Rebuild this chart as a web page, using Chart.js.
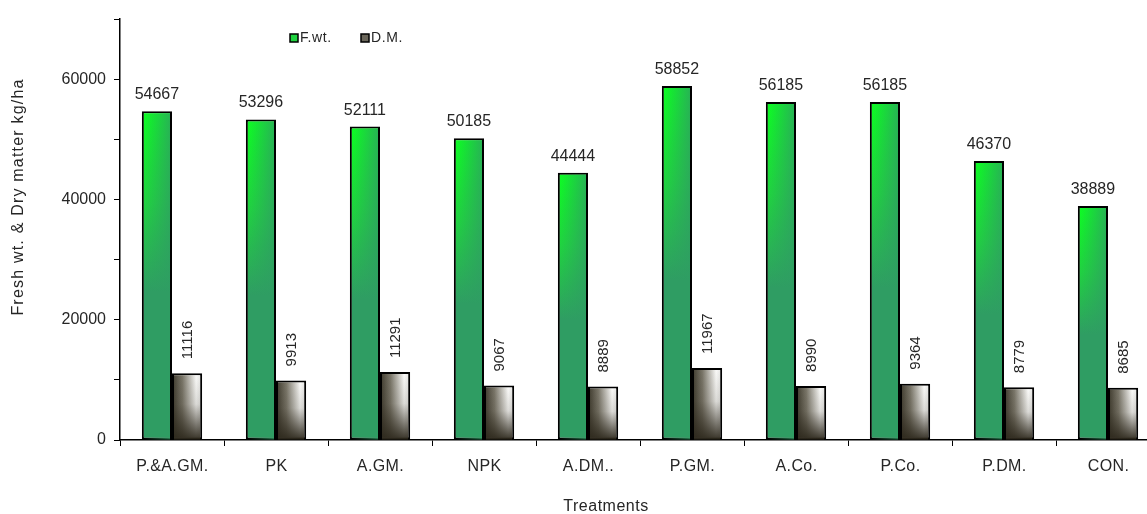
<!DOCTYPE html>
<html>
<head>
<meta charset="utf-8">
<script src="https://cdn.jsdelivr.net/npm/chart.js@4/dist/chart.umd.min.js"></script>
<style>
  html, body { margin: 0; padding: 0; background: #fff; overflow: hidden; }
  #wrap { width: 1147px; height: 514px; overflow: hidden; position: relative; }
  #box { width: 1180px; height: 514px; position: absolute; left: 0; top: 0; }
</style>
</head>
<body>
<div id="wrap"><div id="box"><canvas id="c"></canvas></div></div>
<script>
// Treatments and yields (kg/ha)
const treatments = ['P.&A.GM.', 'PK', 'A.GM.', 'NPK', 'A.DM..', 'P.GM.', 'A.Co.', 'P.Co.', 'P.DM.', 'CON.'];
const freshWeight = [54667, 53296, 52111, 50185, 44444, 58852, 56185, 56185, 46370, 38889];
const dryMatter = [11116, 9913, 11291, 9067, 8889, 11967, 8990, 9364, 8779, 8685];
const seriesNames = ['F.wt.', 'D.M.'];
const yTitle = 'Fresh wt. & Dry matter kg/ha';
const xTitle = 'Treatments';

const FONT = '"Liberation Sans", Arial, sans-serif';
const TEXT = '#262626';
const BW = 2;

function innerRect(el) {
  return {
    l: el.x - el.width / 2 + BW, r: el.x + el.width / 2 - BW,
    t: el.y + BW, b: el.base
  };
}

// Base fills: green bars fade top to bottom, dark bars shade left to right
const barFill = {
  id: 'barFill',
  beforeDatasetsDraw(chart) {
    const ctx = chart.ctx;
    chart.data.datasets.forEach((ds, di) => {
      chart.getDatasetMeta(di).data.forEach(el => {
        const left = el.x - el.width / 2, right = el.x + el.width / 2;
        const top = el.y, bottom = el.base;
        let g;
        if (di === 0) {
          g = ctx.createLinearGradient(0, top, 0, top + (bottom - top) * 0.55);
          g.addColorStop(0, '#0cff22');
          g.addColorStop(0.5, '#1fd43f');
          g.addColorStop(1, '#2f9d63');
        } else {
          g = ctx.createLinearGradient(left, 0, right, 0);
          g.addColorStop(0, '#3b372a');
          g.addColorStop(0.35, '#7b776a');
          g.addColorStop(0.8, '#fafaf8');
          g.addColorStop(1, '#e2e2e0');
        }
        el.options.backgroundColor = g;
      });
    });
  }
};

function spacedText(ctx, text, x, y, spacing) {
  ctx.letterSpacing = spacing + 'px';
  ctx.fillText(text, x, y);
  ctx.letterSpacing = '0px';
}

// Shading overlays, value labels, category labels, axis titles and legend
const annotations = {
  id: 'annotations',
  afterDatasetsDraw(chart) {
    const ctx = chart.ctx;
    ctx.save();

    // horizontal darkening on green bars
    chart.getDatasetMeta(0).data.forEach(el => {
      const r = innerRect(el);
      const g = ctx.createLinearGradient(r.l, 0, r.r, 0);
      g.addColorStop(0, 'rgba(47,157,99,0)');
      g.addColorStop(1, 'rgba(47,157,99,0.75)');
      ctx.fillStyle = g;
      ctx.fillRect(r.l, r.t, r.r - r.l, r.b - r.t);
    });
    // bottom darkening on dry-matter bars
    chart.getDatasetMeta(1).data.forEach(el => {
      const r = innerRect(el);
      const g = ctx.createLinearGradient(0, r.t, 0, r.b);
      g.addColorStop(0, 'rgba(45,40,28,0)');
      g.addColorStop(0.45, 'rgba(45,40,28,0.15)');
      g.addColorStop(1, 'rgba(45,40,28,0.95)');
      ctx.fillStyle = g;
      ctx.fillRect(r.l, r.t, r.r - r.l, r.b - r.t);
    });

    ctx.fillStyle = TEXT;
    ctx.font = '16px ' + FONT;
    chart.getDatasetMeta(0).data.forEach((el, i) => {
      ctx.textAlign = 'center';
      ctx.textBaseline = 'alphabetic';
      ctx.fillText(String(freshWeight[i]), el.x, el.y - 12);
    });
    ctx.font = '15px ' + FONT;
    chart.getDatasetMeta(1).data.forEach((el, i) => {
      ctx.save();
      ctx.translate(el.x + 1, el.y - 14);
      ctx.rotate(-Math.PI / 2);
      ctx.textAlign = 'left';
      ctx.textBaseline = 'middle';
      ctx.fillText(String(dryMatter[i]), 0, 0);
      ctx.restore();
    });

    // category labels
    const xs = chart.scales.x;
    ctx.font = '16px ' + FONT;
    ctx.textAlign = 'center';
    ctx.textBaseline = 'middle';
    treatments.forEach((t, i) => {
      spacedText(ctx, t, xs.getPixelForTick(i) + 0.5, 467, 0.4);
    });

    // axis titles
    ctx.font = '16px ' + FONT;
    ctx.save();
    ctx.translate(19, 197);
    ctx.rotate(-Math.PI / 2);
    ctx.textAlign = 'center';
    ctx.textBaseline = 'middle';
    spacedText(ctx, yTitle, 0, 0, 1.2);
    ctx.restore();
    ctx.font = '16px ' + FONT;
    ctx.textAlign = 'center';
    ctx.textBaseline = 'middle';
    spacedText(ctx, xTitle, 606, 507, 0.5);

    // legend
    const items = [
      { x: 290, fill: '#1fd23f', label: seriesNames[0] },
      { x: 361, fill: '#6a665a', label: seriesNames[1] }
    ];
    ctx.font = '14px ' + FONT;
    items.forEach(it => {
      ctx.fillStyle = it.fill;
      ctx.fillRect(it.x, 34, 8, 8);
      ctx.strokeStyle = '#000';
      ctx.lineWidth = 1.5;
      ctx.strokeRect(it.x, 34, 8, 8);
      ctx.fillStyle = TEXT;
      ctx.textAlign = 'left';
      ctx.textBaseline = 'middle';
      spacedText(ctx, it.label, it.x + 10, 38.5, 0.6);
    });
    ctx.restore();
  }
};

new Chart(document.getElementById('c'), {
  type: 'bar',
  data: {
    labels: treatments,
    datasets: [
      { label: seriesNames[0], data: freshWeight, backgroundColor: () => '#2f9d63', borderColor: '#000', borderWidth: BW, borderSkipped: false },
      { label: seriesNames[1], data: dryMatter, backgroundColor: () => '#555', borderColor: '#000', borderWidth: BW, borderSkipped: false }
    ]
  },
  options: {
    responsive: true,
    maintainAspectRatio: false,
    animation: false,
    layout: { padding: { left: 0, right: 20, top: 19, bottom: 0 } },
    datasets: { bar: { categoryPercentage: 0.58, barPercentage: 1.0 } },
    plugins: { legend: { display: false }, tooltip: { enabled: false } },
    scales: {
      x: {
        offset: true,
        grid: { display: true, drawOnChartArea: false, offset: true, tickLength: 6, color: '#000', tickWidth: 1 },
        border: { color: '#000', width: 1.5 },
        ticks: { color: TEXT, font: { family: FONT, size: 16 }, padding: 12, maxRotation: 0, autoSkip: false, callback: () => '' },
        afterFit(scale) { scale.height = 74; }
      },
      y: {
        min: 0,
        max: 70000,
        grid: { display: true, drawOnChartArea: false, tickLength: 6, color: '#000', tickWidth: 1 },
        border: { color: '#000', width: 1.5 },
        ticks: {
          stepSize: 10000,
          color: TEXT,
          font: { family: FONT, size: 16 },
          padding: 8,
          callback: v => (v % 20000 === 0 && v < 70000) ? String(v) : ''
        },
        afterFit(scale) { scale.width = 120; }
      }
    }
  },
  plugins: [barFill, annotations]
});
</script>
</body>
</html>
